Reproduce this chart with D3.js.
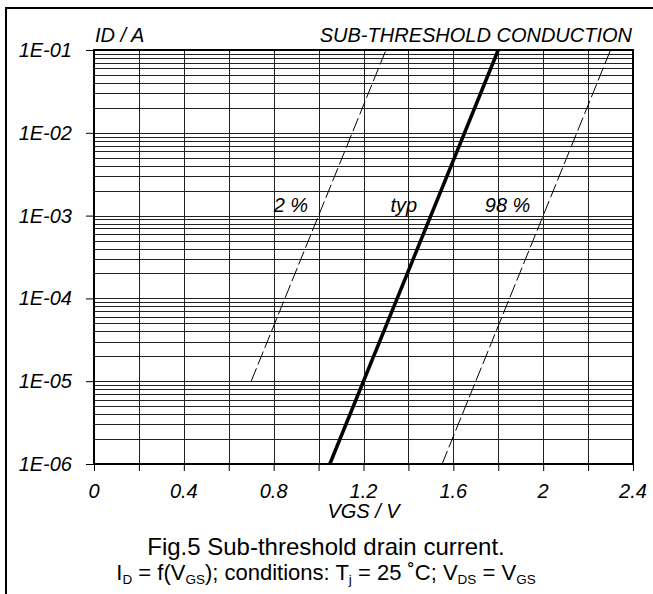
<!DOCTYPE html>
<html><head><meta charset="utf-8">
<script src="https://cdn.jsdelivr.net/npm/d3@7"></script>
<style>
html,body{margin:0;padding:0;background:#fff;}
svg{display:block;}
text{font-family:"Liberation Sans",Arial,sans-serif;fill:#000;}
</style></head>
<body>
<svg id="chart" width="653" height="594"></svg>
<script>
// ---- data ----
const xTicks = [0, 0.4, 0.8, 1.2, 1.6, 2, 2.4];
const xTickLabels = ["0", "0.4", "0.8", "1.2", "1.6", "2", "2.4"];
const yTicks = [1e-6, 1e-5, 1e-4, 1e-3, 1e-2, 1e-1];
const yTickLabels = ["1E-06", "1E-05", "1E-04", "1E-03", "1E-02", "1E-01"];
const vgsLow = [0.7, 1.3];   const idLow = [1e-5, 1e-1];   // 2 %
const vgsTyp = [1.05, 1.8];  const idTyp = [1e-6, 1e-1];   // typ
const vgsHigh = [1.55, 2.3]; const idHigh = [1e-6, 1e-1];  // 98 %
const seriesNames = ["2 %", "typ", "98 %"];
const labelPos = [[0.8, 1.1e-3], [1.32, 1.1e-3], [1.74, 1.1e-3]];

// ---- layout ----
const svg = d3.select("#chart");
const L = 94, R = 633, T = 50, B = 464;
const FS = 20;
const x = d3.scaleLinear().domain([0, 2.4]).range([L, R]);
const y = d3.scaleLog().domain([1e-6, 1e-1]).range([B, T]);

// outer frame (top + left)
svg.append("line").attr("x1", 6).attr("x2", 653).attr("y1", 8).attr("y2", 8).attr("stroke", "#000").attr("stroke-width", 2);
svg.append("line").attr("x1", 6).attr("x2", 6).attr("y1", 7).attr("y2", 594).attr("stroke", "#000").attr("stroke-width", 2);

// grid
const minor = [];
for (let e = -6; e < -1; e++) for (let m = 2; m <= 9; m++) minor.push(m * Math.pow(10, e));
const g = svg.append("g");
g.selectAll("line.h").data(minor.concat(yTicks)).enter().append("line")
  .attr("x1", L).attr("x2", R).attr("y1", d => Math.round(y(d)) + 0.5).attr("y2", d => Math.round(y(d)) + 0.5)
  .attr("stroke", "#222").attr("stroke-width", 1);
const vgrid = d3.range(0, 2.41, 0.2);
g.selectAll("line.v").data(vgrid).enter().append("line")
  .attr("x1", d => Math.round(x(d)) + 0.5).attr("x2", d => Math.round(x(d)) + 0.5).attr("y1", T).attr("y2", B)
  .attr("stroke", "#222").attr("stroke-width", 1);

// axes (ticks)
const xAxis = d3.axisBottom(x).tickValues(vgrid).tickSize(7).tickFormat("");
const xa = svg.append("g").attr("transform", `translate(0,${B})`).call(xAxis);
xa.select(".domain").remove();
xa.selectAll(".tick line").attr("stroke", "#000");
const yAxis = d3.axisLeft(y).tickValues(yTicks).tickSize(8).tickFormat("");
const ya = svg.append("g").attr("transform", `translate(${L},0)`).call(yAxis);
ya.select(".domain").remove();
ya.selectAll(".tick line").attr("stroke", "#000");

// plot border
svg.append("rect").attr("x", L).attr("y", T).attr("width", R - L).attr("height", B - T)
  .attr("fill", "none").attr("stroke", "#000").attr("stroke-width", 2);

// tick labels
svg.selectAll("text.xt").data(xTicks).enter().append("text")
  .attr("x", d => x(d)).attr("y", 498).attr("text-anchor", "middle")
  .attr("font-size", FS).attr("font-style", "italic").text((d, i) => xTickLabels[i]);
svg.selectAll("text.yt").data(yTicks).enter().append("text")
  .attr("x", 72).attr("y", d => y(d) + 7).attr("text-anchor", "end")
  .attr("font-size", FS).attr("font-style", "italic").text((d, i) => yTickLabels[i]);

// curves
const line = d3.line().x(d => x(d[0])).y(d => y(d[1]));
const curves = [
  {v: vgsLow, i: idLow, w: 1, dash: "14,4"},
  {v: vgsTyp, i: idTyp, w: 3.5, dash: null},
  {v: vgsHigh, i: idHigh, w: 1, dash: "14,4"}
];
curves.forEach(c => {
  svg.append("path").datum(d3.zip(c.v, c.i)).attr("d", line)
    .attr("fill", "none").attr("stroke", "#000").attr("stroke-width", c.w)
    .attr("stroke-dasharray", c.dash);
});

// series labels
svg.selectAll("text.sl").data(seriesNames).enter().append("text")
  .attr("x", (d, i) => x(labelPos[i][0])).attr("y", (d, i) => y(labelPos[i][1]))
  .attr("font-size", FS).attr("font-style", "italic").text(d => d);

// axis titles
svg.append("text").attr("x", 95).attr("y", 42).attr("font-size", FS).attr("font-style", "italic").text("ID / A");
svg.append("text").attr("x", 632).attr("y", 42).attr("text-anchor", "end").attr("font-size", FS).attr("font-style", "italic").text("SUB-THRESHOLD CONDUCTION");
svg.append("text").attr("x", (L + R) / 2).attr("y", 518).attr("text-anchor", "middle").attr("font-size", FS).attr("font-style", "italic").text("VGS / V");

// caption
svg.append("text").attr("x", 326).attr("y", 555).attr("text-anchor", "middle").attr("font-size", 24).text("Fig.5 Sub-threshold drain current.");
const cap = svg.append("text").attr("x", 326).attr("y", 580).attr("text-anchor", "middle").attr("font-size", 22);
const parts = [["I", 0], ["D", 1], [" = f(V", 0], ["GS", 1], ["); conditions: T", 0], ["j", 1], [" = 25 ˚C; V", 0], ["DS", 1], [" = V", 0], ["GS", 1]];
let prevSub = 0;
parts.forEach(p => {
  const ts = cap.append("tspan").text(p[0]);
  if (p[1]) { ts.attr("font-size", 13.5).attr("dy", prevSub ? 0 : 4); }
  else { ts.attr("dy", prevSub ? -4 : 0); }
  prevSub = p[1];
});
</script>
</body></html>
